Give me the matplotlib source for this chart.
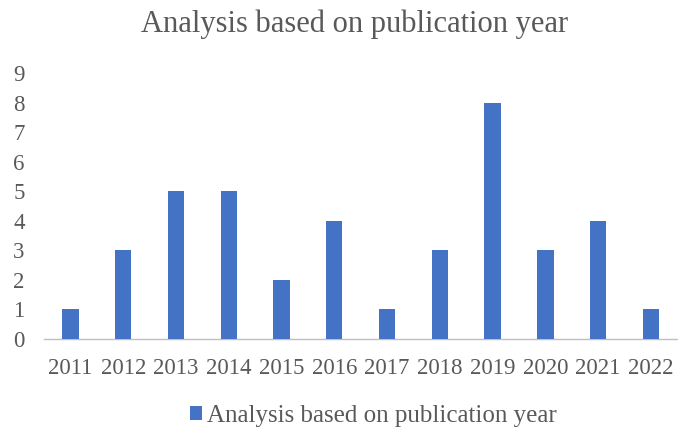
import matplotlib.pyplot as plt
import numpy as np

# publication counts per year
years = ['2011', '2012', '2013', '2014', '2015', '2016',
         '2017', '2018', '2019', '2020', '2021', '2022']
counts = [1, 3, 5, 5, 2, 4, 1, 3, 8, 3, 4, 1]
title = 'Analysis based on publication year'

plt.rcParams['font.family'] = ['Liberation Serif', 'DejaVu Serif']

fig = plt.figure(figsize=(6.78, 4.28), dpi=100)
ax = fig.add_axes([0.065, 0.208, 0.934, 0.621])

x = np.arange(len(years))
ax.bar(x, counts, width=0.31, color='#4472C4', label=title, zorder=3)

ax.set_xlim(-0.5, len(years) - 0.5)
ax.set_ylim(0, 9)
ax.set_yticks(range(0, 10))
ax.set_xticks(x)
ax.set_xticklabels(years)
ax.tick_params(axis='both', length=0, labelsize=16.5, colors='#595959')
ax.tick_params(axis='x', pad=14)
ax.tick_params(axis='y', pad=14)

for s in ['top', 'right', 'left']:
    ax.spines[s].set_visible(False)
ax.spines['bottom'].set_color('#BFBFBF')
ax.spines['bottom'].set_linewidth(1.0)

fig.text(0.523, 0.943, title, ha='center', va='center', fontsize=22, color='#595959')

fig.legend(loc='center', bbox_to_anchor=(0.551, 0.028), frameon=False, fontsize=18,
           handlelength=0.5, handleheight=0.5, handletextpad=0.2, labelcolor='#595959')

fig.savefig('out.png', dpi=100)
